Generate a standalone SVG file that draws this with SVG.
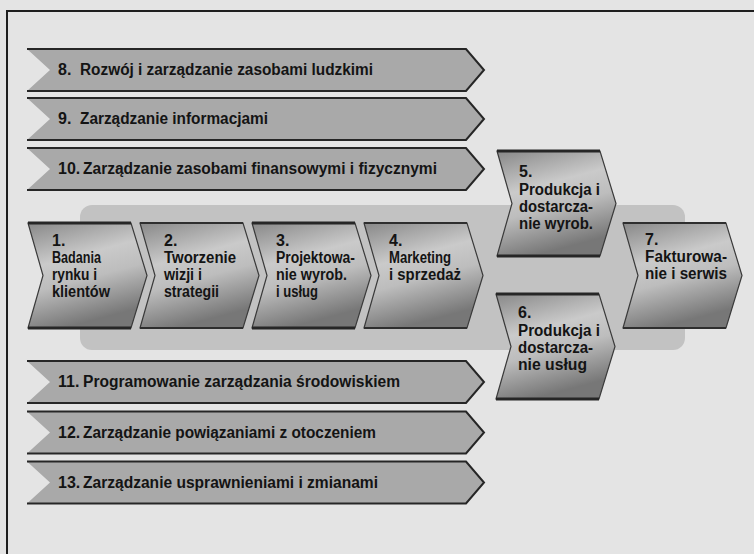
<svg xmlns="http://www.w3.org/2000/svg" width="754" height="554" viewBox="0 0 754 554">
  <style>
    .page { fill: #e4e4e4; }
    .frame { fill: none; stroke: #1e1e1e; stroke-width: 2; }
    .track { fill: #c2c2c2; }
    .band { fill: #a9a9a9; }
    .band-edge { fill: none; stroke: #262626; stroke-width: 2; stroke-linejoin: miter; }
    .chev { fill: url(#chevFill); stroke: #3a3a3a; stroke-width: 1.2; }
    .rail { fill: none; stroke: #262626; stroke-width: 3; }
    .rail-thin { fill: none; stroke: #2e2e2e; stroke-width: 2; }
    text { font-family: "Liberation Sans", Arial, sans-serif; font-weight: bold; fill: #141414; }
    .bt { font-size: 16px; }
    .ct { font-size: 16px; }
  </style>
  <defs>
    <linearGradient id="chevFill" x1="0" y1="0" x2="0.3" y2="1">
      <stop offset="0" stop-color="#888888"/>
      <stop offset="0.4" stop-color="#cacaca"/>
      <stop offset="0.62" stop-color="#bdbdbd"/>
      <stop offset="1" stop-color="#777777"/>
    </linearGradient>
    <!-- support-process band, notched on the left, pointed on the right -->
    <path id="band" d="M0,0 H439 L457,21 L439,42 H0 L23,21 Z"/>
    <path id="bandEdge" d="M0,0 H439 L457,21 L439,42 H0"/>
    <!-- core-process chevron -->
    <path id="chev" d="M0,0 H103 L119,52.5 L103,105 H0 L15,52.5 Z"/>
    <path id="rails" d="M0,0 H103 M0,105 H103"/>
  </defs>

  <rect class="page" x="0" y="0" width="754" height="554"/>
  <path class="frame" d="M7,554 V11 H754"/>

  <!-- wide track behind the core chain -->
  <g id="track">
    <rect class="track" x="80" y="205" width="605" height="145" rx="12"/>
  </g>

  <!-- support processes -->
  <g id="n8">
    <use href="#band" class="band" x="27" y="49"/>
    <use href="#bandEdge" class="band-edge" x="27" y="49"/>
    <text class="bt" x="58" y="75">8.</text>
    <text class="bt" x="80" y="75" textLength="293" lengthAdjust="spacingAndGlyphs">Rozwój i zarządzanie zasobami ludzkimi</text>
  </g>
  <g id="n9">
    <use href="#band" class="band" x="27" y="98"/>
    <use href="#bandEdge" class="band-edge" x="27" y="98"/>
    <text class="bt" x="58" y="124">9.</text>
    <text class="bt" x="80" y="124" textLength="188" lengthAdjust="spacingAndGlyphs">Zarządzanie informacjami</text>
  </g>
  <g id="n10">
    <use href="#band" class="band" x="27" y="148"/>
    <use href="#bandEdge" class="band-edge" x="27" y="148"/>
    <text class="bt" x="58" y="174">10.</text>
    <text class="bt" x="83" y="174" textLength="354" lengthAdjust="spacingAndGlyphs">Zarządzanie zasobami finansowymi i fizycznymi</text>
  </g>
  <g id="n11">
    <use href="#band" class="band" x="27" y="361"/>
    <use href="#bandEdge" class="band-edge" x="27" y="361"/>
    <text class="bt" x="58" y="387">11.</text>
    <text class="bt" x="83" y="387" textLength="317" lengthAdjust="spacingAndGlyphs">Programowanie zarządzania środowiskiem</text>
  </g>
  <g id="n12">
    <use href="#band" class="band" x="27" y="411.5"/>
    <use href="#bandEdge" class="band-edge" x="27" y="411.5"/>
    <text class="bt" x="58" y="437.5">12.</text>
    <text class="bt" x="83" y="437.5" textLength="293" lengthAdjust="spacingAndGlyphs">Zarządzanie powiązaniami z otoczeniem</text>
  </g>
  <g id="n13">
    <use href="#band" class="band" x="27" y="461.5"/>
    <use href="#bandEdge" class="band-edge" x="27" y="461.5"/>
    <text class="bt" x="58" y="487.5">13.</text>
    <text class="bt" x="83" y="487.5" textLength="295" lengthAdjust="spacingAndGlyphs">Zarządzanie usprawnieniami i zmianami</text>
  </g>

  <!-- core processes -->
  <g id="n1">
    <use href="#chev" class="chev" x="28" y="223"/>
    <use href="#rails" class="rail" x="28" y="223"/>
    <text class="ct" x="52" y="246">1.</text>
    <text class="ct" x="52" y="263" textLength="49" lengthAdjust="spacingAndGlyphs">Badania</text>
    <text class="ct" x="52" y="280" textLength="45" lengthAdjust="spacingAndGlyphs">rynku i</text>
    <text class="ct" x="52" y="297" textLength="58" lengthAdjust="spacingAndGlyphs">klientów</text>
  </g>
  <g id="n2">
    <use href="#chev" class="chev" x="140" y="223"/>
    <use href="#rails" class="rail-thin" x="140" y="223"/>
    <text class="ct" x="164" y="246">2.</text>
    <text class="ct" x="164" y="263" textLength="72" lengthAdjust="spacingAndGlyphs">Tworzenie</text>
    <text class="ct" x="164" y="280" textLength="38" lengthAdjust="spacingAndGlyphs">wizji i</text>
    <text class="ct" x="164" y="297" textLength="55" lengthAdjust="spacingAndGlyphs">strategii</text>
  </g>
  <g id="n3">
    <use href="#chev" class="chev" x="252" y="223"/>
    <use href="#rails" class="rail" x="252" y="223"/>
    <text class="ct" x="276" y="246">3.</text>
    <text class="ct" x="276" y="263" textLength="79" lengthAdjust="spacingAndGlyphs">Projektowa-</text>
    <text class="ct" x="276" y="280" textLength="71" lengthAdjust="spacingAndGlyphs">nie wyrob.</text>
    <text class="ct" x="276" y="297" textLength="42" lengthAdjust="spacingAndGlyphs">i usług</text>
  </g>
  <g id="n4">
    <use href="#chev" class="chev" x="364" y="223"/>
    <use href="#rails" class="rail-thin" x="364" y="223"/>
    <text class="ct" x="389" y="246">4.</text>
    <text class="ct" x="389" y="263" textLength="62" lengthAdjust="spacingAndGlyphs">Marketing</text>
    <text class="ct" x="389" y="280" textLength="72" lengthAdjust="spacingAndGlyphs">i sprzedaż</text>
  </g>
  <g id="n5">
    <use href="#chev" class="chev" x="497" y="151"/>
    <use href="#rails" class="rail" x="497" y="151"/>
    <text class="ct" x="519" y="177">5.</text>
    <text class="ct" x="519" y="195" textLength="81" lengthAdjust="spacingAndGlyphs">Produkcja i</text>
    <text class="ct" x="519" y="212" textLength="74" lengthAdjust="spacingAndGlyphs">dostarcza-</text>
    <text class="ct" x="519" y="229" textLength="74" lengthAdjust="spacingAndGlyphs">nie wyrob.</text>
  </g>
  <g id="n6">
    <use href="#chev" class="chev" x="496" y="294"/>
    <use href="#rails" class="rail" x="496" y="294"/>
    <text class="ct" x="518" y="318">6.</text>
    <text class="ct" x="518" y="336" textLength="82" lengthAdjust="spacingAndGlyphs">Produkcja i</text>
    <text class="ct" x="518" y="353" textLength="75" lengthAdjust="spacingAndGlyphs">dostarcza-</text>
    <text class="ct" x="518" y="370" textLength="69" lengthAdjust="spacingAndGlyphs">nie usług</text>
  </g>
  <g id="n7">
    <use href="#chev" class="chev" x="623" y="223"/>
    <use href="#rails" class="rail-thin" x="623" y="223"/>
    <text class="ct" x="645" y="245">7.</text>
    <text class="ct" x="645" y="262" textLength="82" lengthAdjust="spacingAndGlyphs">Fakturowa-</text>
    <text class="ct" x="645" y="279" textLength="82" lengthAdjust="spacingAndGlyphs">nie i serwis</text>
  </g>
</svg>
